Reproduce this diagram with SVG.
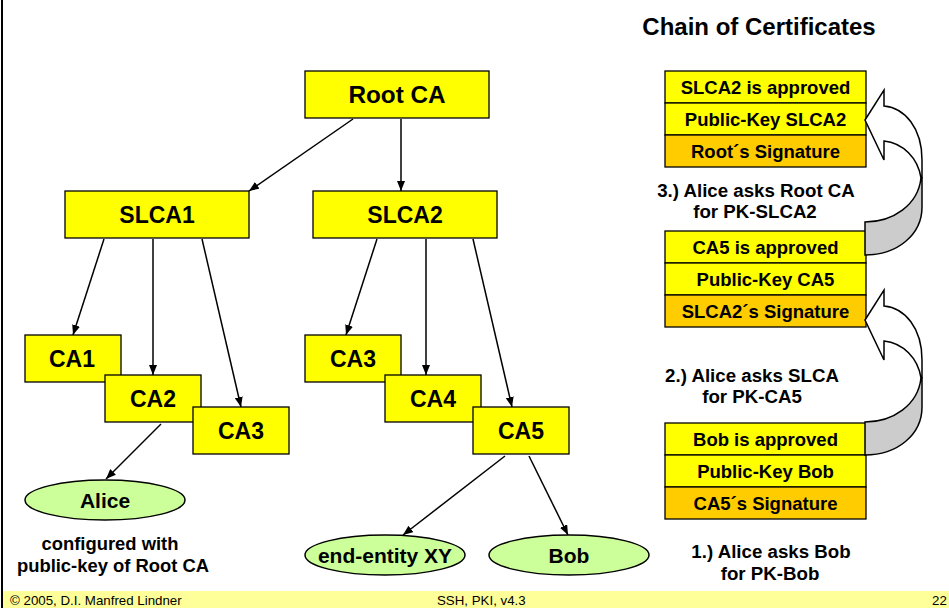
<svg xmlns="http://www.w3.org/2000/svg" width="949" height="608" viewBox="0 0 949 608">
  <defs>
    <style>
      .box { fill: #FFFF00; stroke: #000; stroke-width: 1.3; }
      .sig { fill: #FFCC00; stroke: #000; stroke-width: 1.3; }
      .ent { fill: #CCFF99; stroke: #000; stroke-width: 1.5; }
      .edge { stroke: #000; stroke-width: 1.5; fill: none; marker-end: url(#tip); }
      .lbl { font-family: "Liberation Sans", Arial, sans-serif; font-weight: bold; fill: #000; text-anchor: middle; }
      .big { font-size: 23px; }
      .ell { font-size: 21px; }
      .row { font-size: 18.5px; }
      .note { font-size: 18.7px; }
      .foot { font-family: "Liberation Sans", Arial, sans-serif; font-size: 13.3px; fill: #000; }
      .front { fill: #FFFFFF; stroke: #000; stroke-width: 1.5; stroke-linejoin: miter; }
      .back { fill: #CCCCCC; stroke: #000; stroke-width: 1.5; }
    </style>
    <marker id="tip" viewBox="0 0 10 8" refX="10" refY="4" markerWidth="10" markerHeight="8" markerUnits="userSpaceOnUse" orient="auto">
      <path d="M0,0 L10,4 L0,8 Z" fill="#000"/>
    </marker>
    <!-- curved "go back up the chain" arrow -->
    <g id="curl">
      <path class="back" d="M921,178 C918,205 893,222 865,222 L865,255 C897,255 922,235 922,207 L922,178 Z"/>
      <path class="front" d="M865,120 L884,90 L884,106 C905,108 922,128 922,160 L922,178 L921,178 C918,158 903,143 884,141 L884,160 Z"/>
    </g>
  </defs>

  <rect width="949" height="608" fill="#FFFFFF"/>

  <!-- page frame and footer -->
  <rect x="2" y="591" width="947" height="17" fill="#FFFF99"/>
  <line x1="2" y1="0" x2="2" y2="608" stroke="#000" stroke-width="2"/>
  <text class="foot" x="10" y="605">© 2005, D.I. Manfred Lindner</text>
  <text class="foot" x="437" y="605">SSH, PKI, v4.3</text>
  <text class="foot" x="932" y="605">22</text>

  <!-- connectors -->
  <g id="connectors">
    <line class="edge" x1="353" y1="119" x2="249" y2="191"/>
    <line class="edge" x1="401" y1="119" x2="401" y2="191"/>
    <line class="edge" x1="104" y1="239" x2="73" y2="335"/>
    <line class="edge" x1="153" y1="239" x2="153" y2="375"/>
    <line class="edge" x1="202" y1="239" x2="241" y2="407"/>
    <line class="edge" x1="377" y1="239" x2="346" y2="335"/>
    <line class="edge" x1="426" y1="239" x2="426" y2="375"/>
    <line class="edge" x1="473" y1="239" x2="512" y2="407"/>
    <line class="edge" x1="161" y1="424" x2="106" y2="479"/>
    <line class="edge" x1="505" y1="456" x2="403" y2="535"/>
    <line class="edge" x1="529" y1="456" x2="568" y2="535"/>
  </g>

  <!-- hierarchy nodes -->
  <g id="root-ca">
    <rect class="box" x="305" y="71" width="184" height="47"/>
    <text class="lbl" style="font-size:24.3px" x="397" y="103">Root CA</text>
  </g>
  <g id="slca1">
    <rect class="box" x="65" y="191" width="184" height="47"/>
    <text class="lbl big" x="157" y="223">SLCA1</text>
  </g>
  <g id="slca2">
    <rect class="box" x="313" y="191" width="184" height="47"/>
    <text class="lbl big" x="405" y="223">SLCA2</text>
  </g>
  <g id="ca1">
    <rect class="box" x="25" y="335" width="96" height="47"/>
    <text class="lbl big" x="72" y="367">CA1</text>
  </g>
  <g id="ca2">
    <rect class="box" x="105" y="375" width="96" height="47"/>
    <text class="lbl big" x="153" y="407">CA2</text>
  </g>
  <g id="ca3-left">
    <rect class="box" x="193" y="407" width="96" height="47"/>
    <text class="lbl big" x="241" y="439">CA3</text>
  </g>
  <g id="ca3-right">
    <rect class="box" x="305" y="335" width="96" height="47"/>
    <text class="lbl big" x="353" y="367">CA3</text>
  </g>
  <g id="ca4">
    <rect class="box" x="385" y="375" width="96" height="47"/>
    <text class="lbl big" x="433" y="407">CA4</text>
  </g>
  <g id="ca5">
    <rect class="box" x="473" y="407" width="96" height="47"/>
    <text class="lbl big" x="521" y="439">CA5</text>
  </g>

  <!-- end entities -->
  <g id="alice">
    <ellipse class="ent" cx="105" cy="500" rx="80" ry="20"/>
    <text class="lbl ell" x="105" y="507.5">Alice</text>
  </g>
  <g id="end-entity-xy">
    <ellipse class="ent" cx="385" cy="555" rx="80" ry="20"/>
    <text class="lbl ell" x="385" y="562.5">end-entity XY</text>
  </g>
  <g id="bob">
    <ellipse class="ent" cx="569" cy="555" rx="80" ry="20"/>
    <text class="lbl ell" x="569" y="562.5">Bob</text>
  </g>
  <g id="alice-note">
    <text class="lbl" style="font-size:18.4px" x="110" y="550">configured with</text>
    <text class="lbl" style="font-size:18.4px" x="113" y="572">public-key of Root CA</text>
  </g>

  <!-- certificate chain -->
  <text class="lbl" style="font-size:24px" x="759" y="35">Chain of Certificates</text>

  <g id="cert-slca2">
    <rect class="box" x="665" y="71" width="201" height="32"/>
    <rect class="box" x="665" y="103" width="201" height="32"/>
    <rect class="sig" x="665" y="135" width="201" height="32"/>
    <text class="lbl row" x="765.5" y="93.5">SLCA2 is approved</text>
    <text class="lbl row" x="765.5" y="125.5">Public-Key SLCA2</text>
    <text class="lbl row" x="765.5" y="157.5">Root´s Signature</text>
  </g>
  <g id="cert-ca5">
    <rect class="box" x="665" y="231" width="201" height="32"/>
    <rect class="box" x="665" y="263" width="201" height="32"/>
    <rect class="sig" x="665" y="295" width="201" height="32"/>
    <text class="lbl row" x="765.5" y="253.5">CA5 is approved</text>
    <text class="lbl row" x="765.5" y="285.5">Public-Key CA5</text>
    <text class="lbl row" x="765.5" y="317.5">SLCA2´s Signature</text>
  </g>
  <g id="cert-bob">
    <rect class="box" x="665" y="423" width="201" height="32"/>
    <rect class="box" x="665" y="455" width="201" height="32"/>
    <rect class="sig" x="665" y="487" width="201" height="32"/>
    <text class="lbl row" x="765.5" y="445.5">Bob is approved</text>
    <text class="lbl row" x="765.5" y="477.5">Public-Key Bob</text>
    <text class="lbl row" x="765.5" y="509.5">CA5´s Signature</text>
  </g>

  <g id="step-arrows">
    <use href="#curl"/>
    <use href="#curl" transform="translate(0,200)"/>
  </g>

  <g id="step-notes">
    <text class="lbl note" x="756" y="197">3.) Alice asks Root CA</text>
    <text class="lbl note" x="755" y="218">for PK-SLCA2</text>
    <text class="lbl note" x="752" y="382">2.) Alice asks SLCA</text>
    <text class="lbl note" x="752" y="403">for PK-CA5</text>
    <text class="lbl note" x="771" y="558">1.) Alice asks Bob</text>
    <text class="lbl note" x="770" y="580">for PK-Bob</text>
  </g>
</svg>
